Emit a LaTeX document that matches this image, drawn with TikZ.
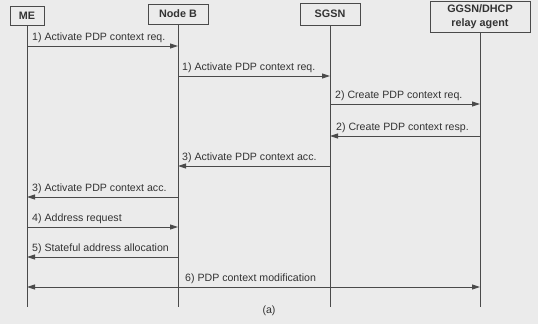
\documentclass[tikz,border=0pt]{standalone}
\usepackage{fontspec}
\setmainfont{Liberation Sans}
\usetikzlibrary{arrows.meta,calc}
\definecolor{bg}{HTML}{EBEBEB}
\definecolor{ink}{HTML}{4A4A4A}
\definecolor{txt}{HTML}{333333}
\begin{document}
\begin{tikzpicture}[x=1pt,y=-1pt,
  hdr/.style={draw=ink, line width=0.9pt, fill=bg, align=center, inner sep=1pt,
    font=\fontsize{10.8}{14}\selectfont\bfseries, text=txt},
  life/.style={draw=ink, line width=0.8pt},
  msg/.style={draw=ink, line width=0.9pt, -{Triangle[length=8pt,width=5pt]}},
  dmsg/.style={draw=ink, line width=0.9pt, {Triangle[length=8pt,width=5pt]}-{Triangle[length=8pt,width=5pt]}},
  lbl/.style={anchor=south west, inner sep=0pt, text=txt, font=\fontsize{10.6}{12}\selectfont}]
\fill[bg] (0,0) rectangle (538,324);
\useasboundingbox (0,0) rectangle (538,324);
% headers
\node[hdr, minimum width=34pt, minimum height=19pt] (me) at (27,16) {ME};
\node[hdr, minimum width=60pt, minimum height=20pt] (nb) at (178,14) {Node B};
\node[hdr, minimum width=60pt, minimum height=22pt] (sg) at (330,14) {SGSN};
\node[hdr, minimum width=100pt, minimum height=31pt] (gg) at (480,16.5) {GGSN/DHCP\\relay agent};
% lifeline ends
\coordinate (bot) at (0,307);
\coordinate (meE) at (me |- bot);
\coordinate (nbE) at (nb |- bot);
\coordinate (sgE) at (sg |- bot);
\coordinate (ggE) at (gg |- bot);
\draw[life] (me.south) -- (meE);
\draw[life] (nb.south) -- (nbE);
\draw[life] (sg.south) -- (sgE);
\draw[life] (gg.south) -- (ggE);
% message rows
\coordinate (r1) at (0,46);
\coordinate (r2) at (0,76);
\coordinate (r3) at (0,104);
\coordinate (r4) at (0,136);
\coordinate (r5) at (0,166);
\coordinate (r6) at (0,197);
\coordinate (r7) at (0,227);
\coordinate (r8) at (0,257);
\coordinate (r9) at (0,287);
% messages
\draw[msg] (me |- r1) -- (nb |- r1);
\node[lbl] (l1) at ($(me |- r1)+(5,-3)$) {1) Activate PDP context req.};
\draw[msg] (nb |- r2) -- (sg |- r2);
\node[lbl] (l2) at ($(nb |- r2)+(4,-3)$) {1) Activate PDP context req.};
\draw[msg] (sg |- r3) -- (gg |- r3);
\node[lbl] (l3) at ($(sg |- r3)+(5,-3)$) {2) Create PDP context req.};
\draw[msg] (gg |- r4) -- (sg |- r4);
\node[lbl] (l4) at ($(sg |- r4)+(6,-3)$) {2) Create PDP context resp.};
\draw[msg] (sg |- r5) -- (nb |- r5);
\node[lbl] (l5) at ($(nb |- r5)+(4,-3)$) {3) Activate PDP context acc.};
\draw[msg] (nb |- r6) -- (me |- r6);
\node[lbl] (l6) at ($(me |- r6)+(5,-3)$) {3) Activate PDP context acc.};
\draw[msg] (me |- r7) -- (nb |- r7);
\node[lbl] (l7) at ($(me |- r7)+(5,-3)$) {4) Address request};
\draw[msg] (nb |- r8) -- (me |- r8);
\node[lbl] (l8) at ($(me |- r8)+(5,-3)$) {5) Stateful address allocation};
\draw[dmsg] (me |- r9) -- (gg |- r9);
\node[lbl] (l9) at ($(nb |- r9)+(7,-3)$) {6) PDP context modification};
\node[text=txt, font=\fontsize{10.6}{12}\selectfont, inner sep=0pt] (cap) at (269,311) {(a)};
\end{tikzpicture}
\end{document}
